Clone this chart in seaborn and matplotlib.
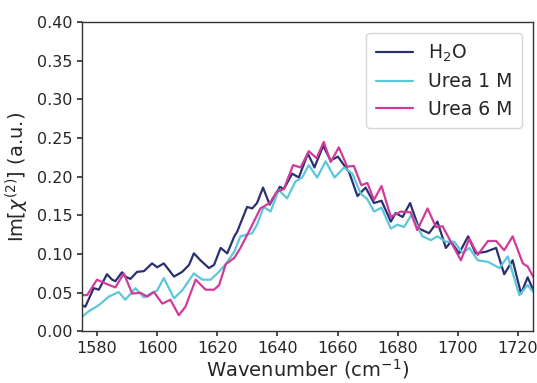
import matplotlib
matplotlib.use("Agg")
import matplotlib.pyplot as plt
import seaborn as sns
import pandas as pd

# ---- data ----
wn_h2o = [1575, 1576.1, 1578.9, 1580.6, 1583.3, 1585, 1586.1, 1588.3, 1589.4, 1591.1,
          1593.3, 1595.6, 1598.3, 1600, 1602.2, 1605.6, 1608.3, 1610.6, 1612.2, 1614.4,
          1617.2, 1618.9, 1621.1, 1623.3, 1625.6, 1626.6, 1629.9, 1631.6, 1633.2, 1635.2,
          1637.4, 1640.8, 1642.1, 1644.9, 1647.1, 1650.1, 1652.3, 1655.2, 1657.7, 1660.1,
          1663.8, 1666.6, 1669.3, 1672.1, 1674.6, 1677.7, 1679.3, 1681.6, 1684.1, 1687.1,
          1690.4, 1693.2, 1696, 1697.7, 1700.4, 1703.4, 1705.9, 1709.3, 1712.7, 1715.4,
          1718.2, 1721, 1723.2, 1725]
im_h2o = [0.034, 0.032, 0.056, 0.054, 0.074, 0.067, 0.065, 0.0765, 0.071, 0.068,
          0.077, 0.078, 0.088, 0.083, 0.088, 0.071, 0.077, 0.086, 0.101, 0.092,
          0.082, 0.086, 0.108, 0.101, 0.1225, 0.129, 0.161, 0.159, 0.166, 0.186,
          0.164, 0.187, 0.184, 0.204, 0.199, 0.230, 0.212, 0.240, 0.221, 0.226,
          0.206, 0.175, 0.186, 0.166, 0.169, 0.142, 0.153, 0.148, 0.166, 0.133,
          0.127, 0.142, 0.108, 0.116, 0.101, 0.123, 0.101, 0.103, 0.108, 0.074,
          0.092, 0.049, 0.070, 0.054]

wn_u1 = [1575, 1577.2, 1580.6, 1583.9, 1587.2, 1589.4, 1592.8, 1595.6, 1597.8, 1600,
         1602.2, 1605.6, 1608.3, 1612.2, 1615, 1617.8, 1620, 1622.8, 1625.6, 1627.7,
         1631.6, 1633.2, 1635.4, 1637.7, 1640.4, 1643.2, 1646, 1648.2, 1650.4, 1653.2,
         1656, 1659, 1662.1, 1664.9, 1667.7, 1669.9, 1672.1, 1674.6, 1677.7, 1679.9,
         1682.1, 1684.6, 1688.2, 1691, 1693.2, 1696, 1698.8, 1701.6, 1703.8, 1706.6,
         1710, 1713.8, 1716.6, 1720.4, 1723.2, 1725]
im_u1 = [0.019, 0.026, 0.034, 0.045, 0.051, 0.041, 0.056, 0.044, 0.049, 0.053,
         0.069, 0.043, 0.053, 0.075, 0.067, 0.067, 0.075, 0.087, 0.103, 0.123,
         0.127, 0.138, 0.161, 0.155, 0.183, 0.172, 0.194, 0.199, 0.215, 0.199,
         0.220, 0.199, 0.212, 0.204, 0.178, 0.171, 0.155, 0.160, 0.133, 0.138,
         0.135, 0.151, 0.123, 0.118, 0.123, 0.116, 0.116, 0.101, 0.108, 0.092,
         0.090, 0.082, 0.097, 0.047, 0.060, 0.051]

wn_u6 = [1575, 1576.7, 1580, 1582.8, 1586.1, 1588.9, 1591.7, 1594.4, 1596.7, 1598.9,
         1601.7, 1604.4, 1607.2, 1609.4, 1612.8, 1616.1, 1618.9, 1620.6, 1622.8, 1625.6,
         1627.7, 1631, 1634.3, 1637.4, 1639.9, 1642.1, 1645.2, 1647.7, 1650.4, 1653,
         1655.4, 1657.7, 1660.4, 1663.2, 1665.4, 1667.9, 1669.9, 1672.1, 1674.6, 1677.7,
         1681, 1684.3, 1686.5, 1689.9, 1692.7, 1694.9, 1698.2, 1701, 1703.8, 1706.6,
         1710, 1712.7, 1715.4, 1718.2, 1721.6, 1723.2, 1725]
im_u6 = [0.047, 0.047, 0.067, 0.062, 0.057, 0.075, 0.049, 0.050, 0.045, 0.051,
         0.036, 0.041, 0.021, 0.032, 0.067, 0.054, 0.054, 0.060, 0.087, 0.095,
         0.108, 0.133, 0.159, 0.166, 0.181, 0.184, 0.215, 0.212, 0.233, 0.224,
         0.245, 0.219, 0.238, 0.213, 0.214, 0.189, 0.192, 0.170, 0.188, 0.148,
         0.155, 0.154, 0.131, 0.159, 0.135, 0.136, 0.112, 0.092, 0.120, 0.099,
         0.117, 0.117, 0.105, 0.123, 0.088, 0.084, 0.071]

labels = ["H$_2$O", "Urea 1 M", "Urea 6 M"]
colors = ["#2b3070", "#5cc6da", "#d23a9a"]

# ---- plot ----
sns.set_theme(style="ticks")
plt.rcParams["font.family"] = ["DejaVu Sans"]

fig = plt.figure(figsize=(5.37, 3.83), dpi=100)
ax = fig.add_axes([0.1527, 0.1345, 0.84, 0.8081])

for wn, im, lab, col in zip([wn_h2o, wn_u1, wn_u6], [im_h2o, im_u1, im_u6], labels, colors):
    df = pd.DataFrame({"wn": wn, "im": im})
    sns.lineplot(data=df, x="wn", y="im", ax=ax, color=col, lw=1.6, label=lab,
                 sort=False, estimator=None)

ax.set_xlim(1575, 1725)
ax.set_ylim(0, 0.40)
ax.set_xticks([1580, 1600, 1620, 1640, 1660, 1680, 1700, 1720])
ax.set_yticks([0.0, 0.05, 0.10, 0.15, 0.20, 0.25, 0.30, 0.35, 0.40])
ax.set_yticklabels([f"{v:.2f}" for v in ax.get_yticks()])
ax.tick_params(labelsize=11.5, length=3.5, color="#333333", labelcolor="#262626")
for s in ax.spines.values():
    s.set_color("#333333")
    s.set_linewidth(1.0)
ax.set_xlabel("Wavenumber (cm$^{-1}$)", fontsize=14, color="#262626", labelpad=1)
ax.set_ylabel(r"Im[$\chi^{(2)}$] (a.u.)", fontsize=14, color="#262626")
ax.legend(loc="upper right", fontsize=13.5, handlelength=2.0, borderpad=0.5,
          labelspacing=0.45, handletextpad=0.8, borderaxespad=0.6)

fig.savefig("out.png", dpi=100)
